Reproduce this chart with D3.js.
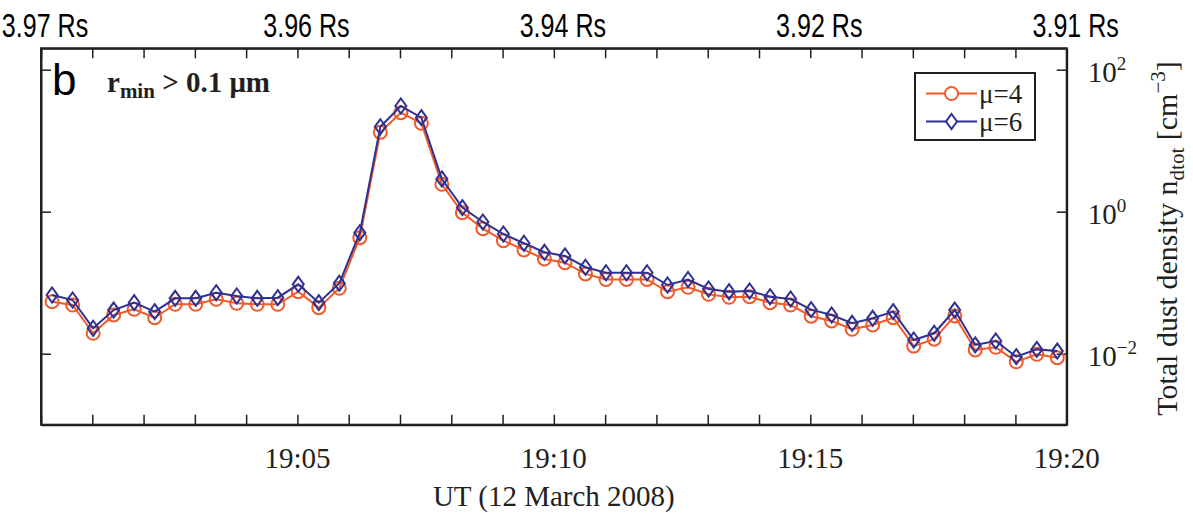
<!DOCTYPE html>
<html>
<head>
<meta charset="utf-8">
<script src="https://cdn.jsdelivr.net/npm/d3@7"></script>
<style>
  html, body { margin: 0; padding: 0; background: #ffffff; }
  svg { display: block; }
</style>
</head>
<body>
<svg id="chart" width="1193" height="513"></svg>
<script>
// ---- data ----
const times = ["19:00:13","19:00:37","19:01:01","19:01:25","19:01:49","19:02:13","19:02:37","19:03:01","19:03:25","19:03:49",
               "19:04:13","19:04:37","19:05:01","19:05:25","19:05:49","19:06:13","19:06:37","19:07:01","19:07:25","19:07:49",
               "19:08:13","19:08:37","19:09:01","19:09:25","19:09:49","19:10:13","19:10:37","19:11:01","19:11:25","19:11:49",
               "19:12:13","19:12:37","19:13:01","19:13:25","19:13:49","19:14:13","19:14:37","19:15:01","19:15:25","19:15:49",
               "19:16:13","19:16:37","19:17:01","19:17:25","19:17:49","19:18:13","19:18:37","19:19:01","19:19:25","19:19:49"];
const mu4 = [0.0540,0.0485,0.0194,0.0351,0.0422,0.0321,0.0497,0.0497,0.0584,0.0513,
             0.0497,0.0497,0.0747,0.0445,0.0834,0.430,13.1,24.8,17.6,2.43,
             0.968,0.576,0.391,0.289,0.216,0.191,0.133,0.111,0.111,0.111,
             0.0747,0.0861,0.0687,0.0623,0.0635,0.0523,0.0485,0.0337,0.0289,0.0221,
             0.0254,0.0321,0.0128,0.0160,0.0340,0.0113,0.0123,0.00770,0.00981,0.00879];
const mu6 = [0.0671,0.0570,0.0228,0.0412,0.0523,0.0391,0.0603,0.0603,0.0723,0.0650,
             0.0603,0.0615,0.0949,0.0523,0.0981,0.506,15.7,30.8,21.1,2.89,
             1.14,0.716,0.485,0.359,0.268,0.238,0.165,0.138,0.138,0.138,
             0.0927,0.111,0.0815,0.0747,0.0764,0.0635,0.0589,0.0417,0.0351,0.0268,
             0.0315,0.0391,0.0156,0.0194,0.0412,0.0133,0.0151,0.00908,0.0115,0.0109];
const xLabelTimes = ["19:05","19:10","19:15","19:20"];
const topLabelTimes = ["19:00","19:05","19:10","19:15","19:20"];
const topLabels = ["3.97 Rs","3.96 Rs","3.94 Rs","3.92 Rs","3.91 Rs"];
const yTickValues = [1e-2, 1, 1e2];
const yTickExps = ["\u22122", "0", "2"];
const seriesNames = ["\u03bc=4", "\u03bc=6"];

// ---- layout ----
const svg = d3.select("#chart");
const L = 41, R = 1066.7, T = 48.3, B = 424.7;
const axisColor = "#231f20";
const cOrange = "#f15a29", cBlue = "#2e3192";
const parse = s => { const p = s.split(":").map(Number); return new Date(Date.UTC(2008, 2, 12, p[0], p[1], p[2] || 0)); };

const x = d3.scaleUtc().domain([parse("19:00"), parse("19:20")]).range([L, R]);
const y = d3.scaleLog().domain([1e-3, 200]).range([B, T]);
const minuteTicks = d3.utcMinute.range(parse("19:00"), d3.utcMinute.offset(parse("19:20"), 1));

// ---- axes (ticks inward) ----
function styleAxis(g) {
  g.selectAll("path.domain").attr("stroke", axisColor).attr("stroke-width", 2);
  g.selectAll(".tick line").attr("stroke", axisColor).attr("stroke-width", 1.5);
  g.selectAll(".tick text").remove();
}
svg.append("g").attr("transform", `translate(0,${B})`)
  .call(d3.axisBottom(x).tickValues(minuteTicks).tickSize(-10).tickSizeOuter(0).tickFormat(""))
  .call(styleAxis);
svg.append("g").attr("transform", `translate(0,${T})`)
  .call(d3.axisTop(x).tickValues(minuteTicks).tickSize(-10).tickSizeOuter(0).tickFormat(""))
  .call(styleAxis);
svg.append("g").attr("transform", `translate(${L},0)`)
  .call(d3.axisLeft(y).tickValues(yTickValues).tickSize(-10).tickSizeOuter(0).tickFormat(""))
  .call(styleAxis);
svg.append("g").attr("transform", `translate(${R},0)`)
  .call(d3.axisRight(y).tickValues(yTickValues).tickSize(-10).tickSizeOuter(0).tickFormat(""))
  .call(styleAxis);
svg.append("rect").attr("x", L).attr("y", T).attr("width", R - L).attr("height", B - T)
  .attr("fill", "none").attr("stroke", axisColor).attr("stroke-width", 2);

// bottom tick labels
svg.selectAll("text.xl").data(xLabelTimes).enter().append("text")
  .attr("x", d => x(parse(d))).attr("y", 468)
  .attr("text-anchor", "middle").attr("font-family", "Liberation Serif, serif")
  .attr("font-size", 29).attr("fill", "#231f20").text(d => d);
svg.append("text").attr("x", (L + R) / 2).attr("y", 506).attr("text-anchor", "middle")
  .attr("font-family", "Liberation Serif, serif").attr("font-size", 29).attr("fill", "#231f20")
  .text("UT (12 March 2008)");

// top labels (condensed sans)
topLabelTimes.forEach((t, i) => {
  const cx = i === 0 ? 45 : x(parse(t)) + 9;
  svg.append("text").attr("transform", `translate(${cx},37) scale(0.76,1)`)
    .attr("text-anchor", "middle").attr("font-family", "Liberation Sans, Arial, sans-serif")
    .attr("font-size", 33).attr("fill", "#000").text(topLabels[i]);
});

// right tick labels 10^n
yTickValues.forEach((v, i) => {
  const t = svg.append("text").attr("x", R + 21).attr("y", y(v) + 12)
    .attr("font-family", "Liberation Serif, serif").attr("font-size", 29).attr("fill", "#231f20");
  t.append("tspan").text("10");
  t.append("tspan").attr("dy", -12).attr("font-size", 19).text(yTickExps[i]);
});

// right title
const title = svg.append("text").attr("transform", `translate(1177,${(T + B) / 2 + 2}) rotate(-90)`)
  .attr("text-anchor", "middle").attr("font-family", "Liberation Serif, serif")
  .attr("font-size", 30).attr("fill", "#231f20");
title.append("tspan").text("Total dust density n");
title.append("tspan").attr("dy", 7).attr("font-size", 21).text("dtot");
title.append("tspan").attr("dy", -7).text(" [cm");
title.append("tspan").attr("dy", -12).attr("font-size", 21).text("\u22123");
title.append("tspan").attr("dy", 12).text("]");

// panel letter & annotation
svg.append("text").attr("x", 52).attr("y", 95).attr("font-family", "Liberation Sans, Arial, sans-serif")
  .attr("font-size", 44).attr("fill", "#000").text("b");
const ann = svg.append("text").attr("x", 107).attr("y", 92).attr("font-family", "Liberation Serif, serif")
  .attr("font-weight", "bold").attr("font-size", 29).attr("fill", "#231f20");
ann.append("tspan").text("r");
ann.append("tspan").attr("dy", 6).attr("font-size", 21).text("min");
ann.append("tspan").attr("dy", -6).text(" > 0.1 \u03bcm");

// ---- series ----
const line = d3.line().x(d => x(d.t)).y(d => y(d.v));
const s4 = times.map((t, i) => ({ t: parse(t), v: mu4[i] }));
const s6 = times.map((t, i) => ({ t: parse(t), v: mu6[i] }));
const plot = svg.append("g");
const diamond = "M0,-7.5L5.5,0L0,7.5L-5.5,0Z";

plot.append("path").datum(s4).attr("d", line).attr("fill", "none").attr("stroke", cOrange).attr("stroke-width", 2);
plot.selectAll("circle.m4").data(s4).enter().append("circle")
  .attr("cx", d => x(d.t)).attr("cy", d => y(d.v)).attr("r", 6.5)
  .attr("fill", "none").attr("stroke", cOrange).attr("stroke-width", 2);
plot.append("path").datum(s6).attr("d", line).attr("fill", "none").attr("stroke", cBlue).attr("stroke-width", 2);
plot.selectAll("path.m6").data(s6).enter().append("path")
  .attr("transform", d => `translate(${x(d.t)},${y(d.v)})`).attr("d", diamond)
  .attr("fill", "none").attr("stroke", cBlue).attr("stroke-width", 2);

// ---- legend ----
const lg = svg.append("g");
lg.append("rect").attr("x", 915).attr("y", 73).attr("width", 120).attr("height", 67)
  .attr("fill", "#fff").attr("stroke", axisColor).attr("stroke-width", 2);
[[93.5, cOrange, "c"], [121.5, cBlue, "d"]].forEach(([ly, col, m], i) => {
  lg.append("line").attr("x1", 926).attr("x2", 977).attr("y1", ly).attr("y2", ly)
    .attr("stroke", col).attr("stroke-width", 2);
  if (m === "c") lg.append("circle").attr("cx", 951.5).attr("cy", ly).attr("r", 6.5)
    .attr("fill", "#fff").attr("stroke", col).attr("stroke-width", 2);
  else lg.append("path").attr("transform", `translate(951.5,${ly})`).attr("d", diamond)
    .attr("fill", "#fff").attr("stroke", col).attr("stroke-width", 2);
  lg.append("text").attr("x", 979).attr("y", ly + 9).attr("font-family", "Liberation Serif, serif")
    .attr("font-size", 27).attr("fill", "#231f20").text(seriesNames[i]);
});
</script>
</body>
</html>
